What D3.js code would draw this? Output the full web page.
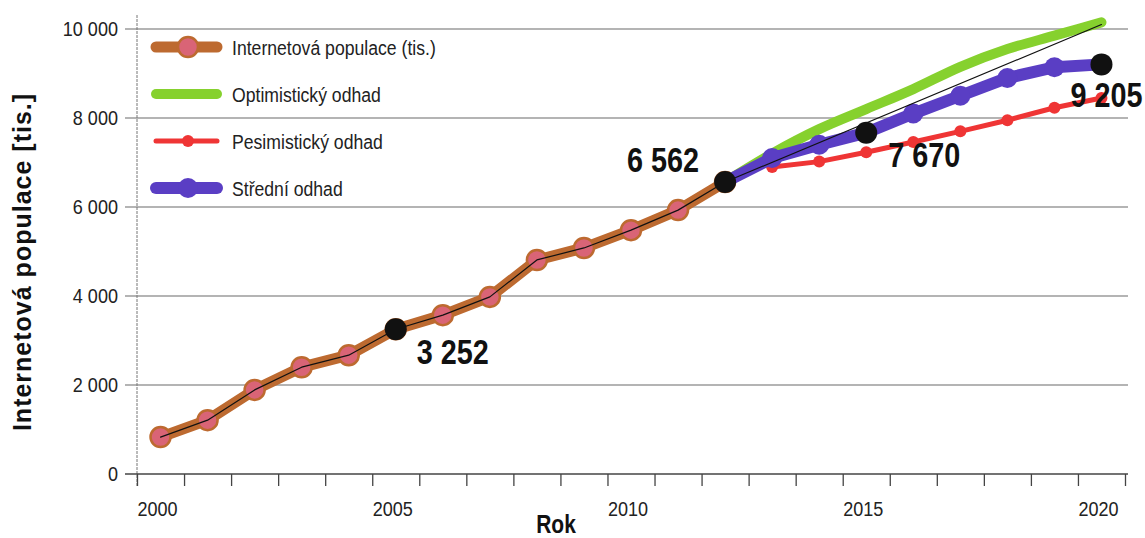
<!DOCTYPE html>
<html>
<head>
<meta charset="utf-8">
<script src="https://cdn.jsdelivr.net/npm/d3@7"></script>
<style>
  body { margin: 0; background: #fff; }
  text { font-family: "Liberation Sans", Arial, sans-serif; fill: #222; }
  .bold { font-weight: bold; fill: #111; }
</style>
</head>
<body>
<div id="container"></div>
<script>
// historic data (tis.)
var histYears = [2000, 2001, 2002, 2003, 2004, 2005, 2006, 2007, 2008, 2009, 2010, 2011, 2012]
var histValues = [830, 1210, 1890, 2400, 2670, 3252, 3570, 3980, 4810, 5080, 5480, 5930, 6562]

// forecasts
var projYears = [2012, 2013, 2014, 2015, 2016, 2017, 2018, 2019, 2020]
var optimistic = [6562, 7200, 7750, 8200, 8650, 9150, 9550, 9850, 10150]
var medium = [6562, 7100, 7400, 7670, 8100, 8500, 8900, 9140, 9205]
var pessYears = [2013, 2014, 2015, 2016, 2017, 2018, 2019, 2020]
var pessimistic = [6900, 7020, 7230, 7460, 7700, 7950, 8230, 8450]

// thin black trend line
var trendYears = histYears.concat([2020])
var trendValues = histValues.concat([10100])

// highlighted points
var markYears = [2005, 2012, 2015, 2020]
var markValues = [3252, 6562, 7670, 9205]

var yTicks = [0, 2000, 4000, 6000, 8000, 10000]
var xTickLabels = [2000, 2005, 2010, 2015, 2020]
var legendNames = ["Internetová populace (tis.)", "Optimistický odhad", "Pesimistický odhad", "Střední odhad"]

var width = 1145
var height = 538

var svg = d3.select("#container")
  .append("svg")
  .attr("width", width)
  .attr("height", height)

var x = d3.scaleLinear().domain([1999.5, 2020.5]).range([137, 1125])
var y = d3.scaleLinear().domain([0, 10000]).range([474, 29])

var fmt = d3.formatLocale({ decimal: ",", thousands: " ", grouping: [3], currency: ["", ""] }).format(",d")

// narrow text: squeeze horizontally around its anchor point
function place(px, py, sx) {
  return function(d, i) {
    var xx = typeof px === "function" ? px(d, i) : px
    var yy = typeof py === "function" ? py(d, i) : py
    return "translate(" + xx + "," + yy + ") scale(" + sx + ",1)"
  }
}

// grid
svg.append("g")
  .selectAll("line")
  .data(yTicks.filter(d => d > 0))
  .enter()
  .append("line")
  .attr("x1", 125).attr("x2", 1128)
  .attr("y1", d => y(d)).attr("y2", d => y(d))
  .attr("stroke", "#6a6a6a")
  .attr("stroke-width", 1.2)

// y axis
svg.append("line")
  .attr("x1", 137).attr("x2", 137)
  .attr("y1", 15).attr("y2", 486)
  .attr("stroke", "#777")
  .attr("stroke-width", 1)
  .attr("stroke-dasharray", "3,1")

svg.append("g")
  .selectAll("text")
  .data(yTicks)
  .enter()
  .append("text")
  .attr("transform", place(118, d => y(d) + 7, 0.86))
  .attr("text-anchor", "end")
  .style("font-size", "21px")
  .text(d => fmt(d))

// x axis
svg.append("line")
  .attr("x1", 125).attr("x2", 1128)
  .attr("y1", y(0)).attr("y2", y(0))
  .attr("stroke", "#444")
  .attr("stroke-width", 1.6)

var xAxis = d3.axisBottom(x)
  .tickValues(d3.range(1999.5, 2021, 1))
  .tickSize(12)
  .tickFormat("")
svg.append("g")
  .attr("transform", "translate(0," + y(0) + ")")
  .call(xAxis)
  .call(g => g.select(".domain").remove())
  .call(g => g.selectAll(".tick line").attr("stroke", "#444").attr("stroke-width", 1.3))

svg.append("g")
  .selectAll("text")
  .data(xTickLabels)
  .enter()
  .append("text")
  .attr("transform", place(d => x(d) - 3, 516, 0.86))
  .attr("text-anchor", "middle")
  .style("font-size", "21px")
  .text(d => d)

svg.append("text")
  .attr("class", "bold")
  .attr("transform", place(556, 533, 0.84))
  .attr("text-anchor", "middle")
  .style("font-size", "25px")
  .text("Rok")

svg.append("text")
  .attr("class", "bold")
  .attr("transform", "translate(31,262) rotate(-90)")
  .attr("text-anchor", "middle")
  .style("font-size", "25px")
  .style("letter-spacing", "1px")
  .text("Internetová populace [tis.]")

// lines
var line = d3.line()
  .x(d => x(d[0]))
  .y(d => y(d[1]))

function pairs(xs, ys) {
  return xs.map((d, i) => [d, ys[i]])
}

var plot = svg.append("g").attr("fill", "none").attr("stroke-linecap", "round").attr("stroke-linejoin", "round")

plot.append("path")
  .attr("d", line(pairs(histYears, histValues)))
  .attr("stroke", "#bd6a30")
  .attr("stroke-width", 11)

plot.selectAll(".hm")
  .data(pairs(histYears, histValues))
  .enter()
  .append("circle")
  .attr("cx", d => x(d[0]))
  .attr("cy", d => y(d[1]))
  .attr("r", 10)
  .attr("fill", "#d96476")
  .attr("stroke", "#bd6a30")
  .attr("stroke-width", 2.5)

plot.append("path")
  .attr("d", line.curve(d3.curveMonotoneX)(pairs(projYears, optimistic)))
  .attr("stroke", "#86d12e")
  .attr("stroke-width", 10)
line.curve(d3.curveLinear)

plot.append("path")
  .attr("d", line(pairs(pessYears, pessimistic)))
  .attr("stroke", "#ef3535")
  .attr("stroke-width", 5)

plot.selectAll(".pm")
  .data(pairs(pessYears, pessimistic))
  .enter()
  .append("circle")
  .attr("cx", d => x(d[0]))
  .attr("cy", d => y(d[1]))
  .attr("r", 6)
  .attr("fill", "#ef3535")

plot.append("path")
  .attr("d", line(pairs(projYears, medium)))
  .attr("stroke", "#5a3ec4")
  .attr("stroke-width", 12)

plot.selectAll(".mm")
  .data(pairs(projYears, medium))
  .enter()
  .append("circle")
  .attr("cx", d => x(d[0]))
  .attr("cy", d => y(d[1]))
  .attr("r", 10)
  .attr("fill", "#5a3ec4")

plot.append("path")
  .attr("d", line(pairs(trendYears, trendValues)))
  .attr("stroke", "#111")
  .attr("stroke-width", 1.2)

// highlighted points + labels
var labelPos = [
  { dx: 21, dy: 35, anchor: "start" },
  { dx: -26, dy: -10, anchor: "end" },
  { dx: 22, dy: 34, anchor: "start" },
  { dx: -31, dy: 43, anchor: "start" }
]

svg.append("g")
  .selectAll("circle")
  .data(pairs(markYears, markValues))
  .enter()
  .append("circle")
  .attr("cx", d => x(d[0]))
  .attr("cy", d => y(d[1]))
  .attr("r", 11)
  .attr("fill", "#111")

svg.append("g")
  .selectAll("text")
  .data(pairs(markYears, markValues))
  .enter()
  .append("text")
  .attr("class", "bold")
  .attr("transform", place((d, i) => x(d[0]) + labelPos[i].dx, (d, i) => y(d[1]) + labelPos[i].dy, 0.8))
  .attr("text-anchor", (d, i) => labelPos[i].anchor)
  .style("font-size", "36px")
  .text(d => fmt(d[1]))

// legend
var legendColors = ["#bd6a30", "#86d12e", "#ef3535", "#5a3ec4"]
var legendWidths = [11, 10, 5, 12]
var legendMarker = [
  { r: 10, fill: "#d96476", stroke: "#bd6a30" },
  null,
  { r: 6, fill: "#ef3535", stroke: "none" },
  { r: 10, fill: "#5a3ec4", stroke: "none" }
]

var legend = svg.append("g")
  .selectAll("g")
  .data(legendNames)
  .enter()
  .append("g")
  .attr("transform", (d, i) => "translate(0," + (47 + i * 47) + ")")

legend.append("line")
  .attr("x1", 156).attr("x2", 217)
  .attr("stroke", (d, i) => legendColors[i])
  .attr("stroke-width", (d, i) => legendWidths[i])
  .attr("stroke-linecap", "round")

legend.filter((d, i) => legendMarker[i] != null)
  .append("circle")
  .attr("cx", 188)
  .attr("r", d => legendMarker[legendNames.indexOf(d)].r)
  .attr("fill", d => legendMarker[legendNames.indexOf(d)].fill)
  .attr("stroke", d => legendMarker[legendNames.indexOf(d)].stroke)
  .attr("stroke-width", 2.5)

legend.append("text")
  .attr("transform", place(232, 8, 0.84))
  .style("font-size", "21px")
  .text(d => d)
</script>
</body>
</html>
